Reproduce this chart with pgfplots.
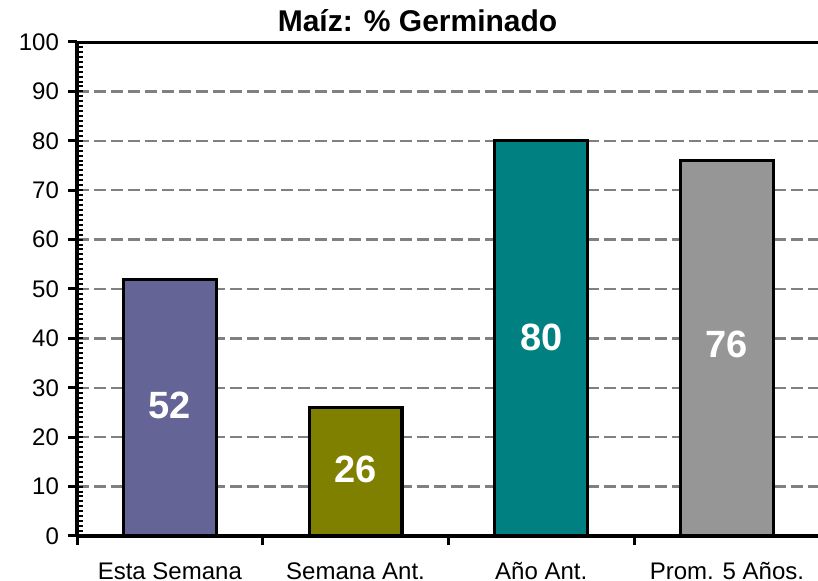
\documentclass[border=0pt]{standalone}
\usepackage{fontspec}
\setmainfont{Liberation Sans}
\usepackage{pgfplots}
\pgfplotsset{compat=1.18}
\definecolor{cA}{HTML}{646496}
\definecolor{cB}{HTML}{808000}
\definecolor{cC}{HTML}{008080}
\definecolor{cD}{HTML}{969696}
\definecolor{gridgray}{HTML}{808080}
\begin{document}
\begin{tikzpicture}
\useasboundingbox (-38.5pt,-22.5pt) rectangle (370.5pt,268pt);
\begin{axis}[
  at={(0,0)}, anchor=south west,
  scale only axis,
  width=371.4pt, height=247pt,
  xmin=-0.5, xmax=3.5, ymin=0, ymax=100,
  axis x line*=bottom, axis y line*=left,
  axis line style={-, line width=2pt, black},
  /pgf/number format/assume math mode=true,
  tick label style={font=\fontsize{12}{14}\selectfont, black},
  tick align=outside,
  major tick length=4.5pt,
  tick style={line width=1.5pt, black},
  ytick={0,10,...,100},
  yticklabel style={xshift=-1pt},
  ymajorgrids=true,
  grid style={gridgray, line width=1.15pt, dash pattern=on 6pt off 2.5pt},
  extra y ticks={0,1,...,100},
  extra y tick labels={},
  extra y tick style={grid=none, tick align=inside, major tick length=3pt, tick style={line width=1pt, black}},
  xtick={-0.5,0.5,1.5,2.5,3.5},
  x tick label as interval,
  xticklabels={Esta Semana,Semana Ant.,Año Ant.,Prom. 5 Años.},
  xticklabel style={text height=8.8pt, text depth=0pt, inner ysep=1pt, yshift=-7.5pt},
  title={\bfseries\fontsize{15}{18}\selectfont Maíz: \% Germinado},
  title style={at={(0.4585,1)}, anchor=base, yshift=-1pt, inner sep=0pt},
]
\addplot[ybar, bar width=0.5, bar shift=0pt, fill=cA, draw=black, line width=1.6pt] coordinates {(0,52)};
\addplot[ybar, bar width=0.5, bar shift=0pt, fill=cB, draw=black, line width=1.6pt] coordinates {(1,26)};
\addplot[ybar, bar width=0.5, bar shift=0pt, fill=cC, draw=black, line width=1.6pt] coordinates {(2,80)};
\addplot[ybar, bar width=0.5, bar shift=0pt, fill=cD, draw=black, line width=1.6pt] coordinates {(3,76)};
\addplot[draw=none, mark=none, nodes near coords, point meta=explicit symbolic,
  nodes near coords style={anchor=center, text=white, font=\bfseries\fontsize{19}{20}\selectfont}]
  coordinates {(0,26.5) [52] (1,13.4) [26] (2,40.2) [80] (3,38.7) [76]};
\draw[line width=2pt, black] (rel axis cs:0,1) -- (rel axis cs:1,1);
\end{axis}
\end{tikzpicture}
\end{document}
